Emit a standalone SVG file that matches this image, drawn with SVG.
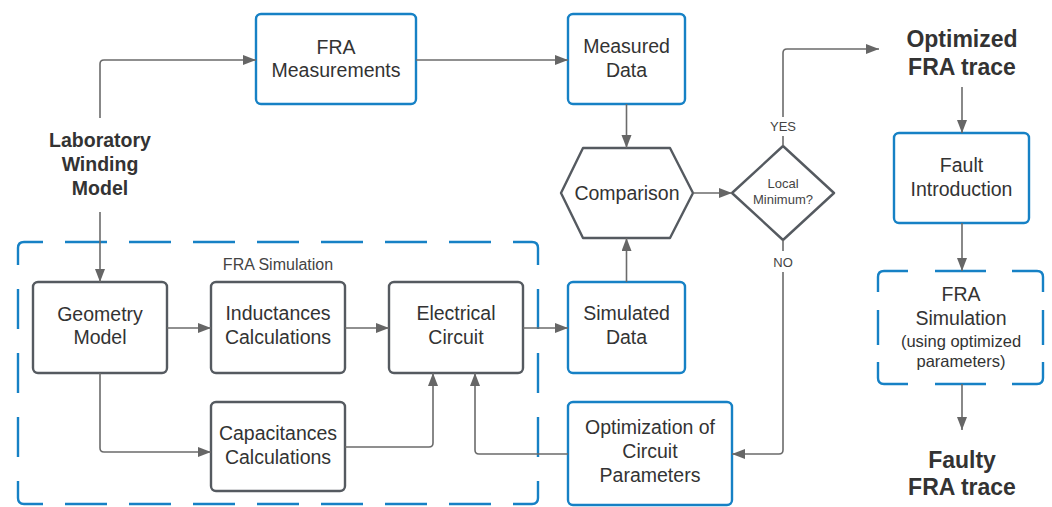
<svg xmlns="http://www.w3.org/2000/svg" width="1052" height="507" viewBox="0 0 1052 507">
<style>
  .blue{fill:#fff;stroke:#1681c5;stroke-width:2.4}
  .gray{fill:#fff;stroke:#555a60;stroke-width:2.4}
  .dash{fill:none;stroke:#1681c5;stroke-width:2.4}
  .t{font-family:"Liberation Sans",Arial,sans-serif;font-size:19.5px;fill:#333;text-anchor:middle}
  .b{font-family:"Liberation Sans",Arial,sans-serif;font-weight:bold;fill:#333;text-anchor:middle}
  .s{font-family:"Liberation Sans",Arial,sans-serif;fill:#444;text-anchor:middle}
  .c{fill:none;stroke:#6b6b6b;stroke-width:1.6}
</style>
<defs>
  <marker id="ah" markerUnits="userSpaceOnUse" markerWidth="14" markerHeight="12" refX="13" refY="5" orient="auto">
    <path d="M0,0 L13,5 L0,10 Z" fill="#666"/>
  </marker>
</defs>

<g id="lab">
  <text class="b" style="font-size:19.5px" x="100" y="147">Laboratory</text>
  <text class="b" style="font-size:19.5px" x="100" y="171">Winding</text>
  <text class="b" style="font-size:19.5px" x="100" y="195">Model</text>
</g>

<g id="fra-sim-group">
  <path class="dash" d="M18,265 L18,248 Q18,242 24,242 L43,242"/>
  <path class="dash" d="M513,242 L532,242 Q538,242 538,248 L538,265"/>
  <path class="dash" d="M538,481 L538,498 Q538,504 532,504 L513,504"/>
  <path class="dash" d="M43,504 L24,504 Q18,504 18,498 L18,481"/>
  <path class="dash" d="M65,242 L491,242 M65,504 L491,504" stroke-dasharray="42 22"/>
  <path class="dash" d="M18,289 L18,457 M538,289 L538,457" stroke-dasharray="40 24"/>
  <text class="s" style="font-size:16px" x="278" y="270">FRA Simulation</text>
</g>

<g id="fra-meas">
  <rect class="blue" x="256" y="14" width="160" height="90" rx="5"/>
  <text class="t" x="336" y="54">FRA</text>
  <text class="t" x="336" y="77">Measurements</text>
</g>

<g id="measured">
  <rect class="blue" x="568" y="14" width="117" height="90" rx="5"/>
  <text class="t" x="626.5" y="53">Measured</text>
  <text class="t" x="626.5" y="77">Data</text>
</g>

<g id="comparison">
  <path class="gray" d="M561,193 L583,148 L670,148 L693,193 L670,238 L583,238 Z" stroke-linejoin="round"/>
  <text class="t" x="627" y="200">Comparison</text>
</g>

<g id="decision">
  <path class="gray" d="M783,146 L834,193 L783,240 L732,193 Z" stroke-linejoin="round"/>
  <text class="s" style="font-size:13px" x="783" y="188">Local</text>
  <text class="s" style="font-size:13px" x="783" y="204">Minimum?</text>
</g>

<g id="optimized">
  <text class="b" style="font-size:23px" x="962" y="47">Optimized</text>
  <text class="b" style="font-size:23px" x="962" y="75">FRA trace</text>
</g>

<g id="fault">
  <rect class="blue" x="894" y="133" width="135" height="90" rx="5"/>
  <text class="t" x="961.5" y="172">Fault</text>
  <text class="t" x="961.5" y="196">Introduction</text>
</g>

<g id="fra-sim2">
  <path class="dash" d="M878,292 L878,277 Q878,271 884,271 L908,271"/>
  <path class="dash" d="M1012,271 L1037,271 Q1043,271 1043,277 L1043,292"/>
  <path class="dash" d="M1043,362 L1043,378 Q1043,384 1037,384 L1012,384"/>
  <path class="dash" d="M908,384 L884,384 Q878,384 878,378 L878,362"/>
  <path class="dash" d="M935,271 L986,271 M935,384 L986,384 M878,310 L878,345 M1043,310 L1043,345"/>
  <text class="t" x="961" y="301">FRA</text>
  <text class="t" x="961" y="325">Simulation</text>
  <text class="s" style="font-size:16.5px;fill:#333" x="961" y="347">(using optimized</text>
  <text class="s" style="font-size:16.5px;fill:#333" x="961" y="367">parameters)</text>
</g>

<g id="faulty">
  <text class="b" style="font-size:23px" x="962" y="468">Faulty</text>
  <text class="b" style="font-size:23px" x="962" y="495">FRA trace</text>
</g>

<g id="geometry">
  <rect class="gray" x="33" y="282" width="134" height="91" rx="5"/>
  <text class="t" x="100" y="321">Geometry</text>
  <text class="t" x="100" y="344">Model</text>
</g>

<g id="inductances">
  <rect class="gray" x="211" y="282" width="134" height="91" rx="5"/>
  <text class="t" x="278" y="320">Inductances</text>
  <text class="t" x="278" y="344">Calculations</text>
</g>

<g id="electrical">
  <rect class="gray" x="389" y="282" width="134" height="91" rx="5"/>
  <text class="t" x="456" y="320">Electrical</text>
  <text class="t" x="456" y="344">Circuit</text>
</g>

<g id="capacitances">
  <rect class="gray" x="211" y="402" width="134" height="89" rx="5"/>
  <text class="t" x="278" y="440">Capacitances</text>
  <text class="t" x="278" y="464">Calculations</text>
</g>

<g id="simulated">
  <rect class="blue" x="568" y="282" width="117" height="91" rx="5"/>
  <text class="t" x="626.5" y="320">Simulated</text>
  <text class="t" x="626.5" y="344">Data</text>
</g>

<g id="optimization">
  <rect class="blue" x="568" y="402" width="164" height="103" rx="5"/>
  <text class="t" x="650" y="434">Optimization of</text>
  <text class="t" x="650" y="458">Circuit</text>
  <text class="t" x="650" y="482">Parameters</text>
</g>

<g id="connectors">
  <path class="c" d="M100,118 L100,64 Q100,60 104,60 L256,60" marker-end="url(#ah)"/>
  <path class="c" d="M100,212 L100,282" marker-end="url(#ah)"/>
  <path class="c" d="M416,60 L568,60" marker-end="url(#ah)"/>
  <path class="c" d="M626.5,104 L626.5,148" marker-end="url(#ah)"/>
  <path class="c" d="M693,193 L732,193" marker-end="url(#ah)"/>
  <path class="c" d="M783,146 L783,136"/>
  <text class="s" style="font-size:13px" x="783" y="131">YES</text>
  <path class="c" d="M783,117 L783,53 Q783,49 787,49 L879,49" marker-end="url(#ah)"/>
  <path class="c" d="M962,87 L962,133" marker-end="url(#ah)"/>
  <path class="c" d="M962,223 L962,271" marker-end="url(#ah)"/>
  <path class="c" d="M962,384 L962,430" marker-end="url(#ah)"/>
  <path class="c" d="M783,240 L783,251"/>
  <text class="s" style="font-size:13px" x="783" y="267">NO</text>
  <path class="c" d="M783,272 L783,450 Q783,454 779,454 L732,454" marker-end="url(#ah)"/>
  <path class="c" d="M167,328 L211,328" marker-end="url(#ah)"/>
  <path class="c" d="M345,328 L389,328" marker-end="url(#ah)"/>
  <path class="c" d="M523,328 L568,328" marker-end="url(#ah)"/>
  <path class="c" d="M100,373 L100,448 Q100,452 104,452 L211,452" marker-end="url(#ah)"/>
  <path class="c" d="M345,447 L429,447 Q433,447 433,443 L433,373" marker-end="url(#ah)"/>
  <path class="c" d="M568,454 L479,454 Q475,454 475,450 L475,373" marker-end="url(#ah)"/>
  <path class="c" d="M626.5,282 L626.5,238" marker-end="url(#ah)"/>
</g>
</svg>
